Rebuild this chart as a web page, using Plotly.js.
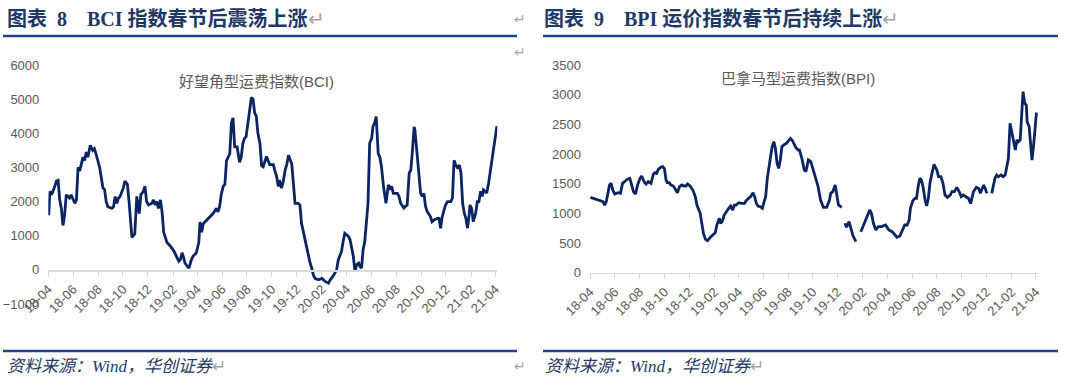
<!DOCTYPE html>
<html>
<head>
<meta charset="utf-8">
<script src="https://cdn.plot.ly/plotly-3.0.1.min.js"></script>
<style>
html,body{margin:0;padding:0;background:#fff;}
#chart{width:1070px;height:384px;}
</style>
</head>
<body>
<div id="chart"></div>
<script>
// ---------- DATA ----------
const bciTitle = "好望角型运费指数(BCI)";
const bpiTitle = "巴拿马型运费指数(BPI)";
const leftHeader = "图表\u00a0\u00a08\u00a0\u00a0\u00a0\u00a0BCI\u00a0指数春节后震荡上涨";
const rightHeader = "图表\u00a0\u00a09\u00a0\u00a0\u00a0\u00a0BPI\u00a0运价指数春节后持续上涨";
const sourceText = "资料来源：Wind，华创证券";

const bciDates = [
"2018-04-02","2018-04-05","2018-04-09","2018-04-13","2018-04-17","2018-04-21","2018-04-25","2018-04-29",
"2018-05-03","2018-05-07","2018-05-11","2018-05-15","2018-05-23","2018-05-27","2018-06-05","2018-06-09",
"2018-06-13","2018-06-17","2018-06-21","2018-06-25","2018-06-29","2018-07-03","2018-07-07","2018-07-13",
"2018-07-19","2018-07-23","2018-07-27","2018-08-05","2018-08-09","2018-08-13","2018-08-17","2018-08-21",
"2018-08-25","2018-09-04","2018-09-08","2018-09-12","2018-09-16","2018-09-20","2018-09-24","2018-10-02",
"2018-10-06","2018-10-12","2018-10-16","2018-10-20","2018-10-23","2018-10-30","2018-11-04","2018-11-10",
"2018-11-14","2018-11-20","2018-11-24","2018-11-28","2018-12-03","2018-12-11","2018-12-15","2018-12-19",
"2018-12-23","2018-12-27","2019-01-01","2019-01-05","2019-01-09","2019-01-17","2019-01-25","2019-02-03",
"2019-02-07","2019-02-15","2019-02-19","2019-02-23","2019-02-27","2019-03-02","2019-03-08","2019-03-12",
"2019-03-18","2019-03-22","2019-03-30","2019-04-05","2019-04-08","2019-04-12","2019-04-16","2019-04-24",
"2019-05-02","2019-05-10","2019-05-18","2019-05-22","2019-05-26","2019-05-30","2019-06-04","2019-06-08",
"2019-06-12","2019-06-16","2019-06-20","2019-06-24","2019-06-28","2019-07-02","2019-07-08","2019-07-14",
"2019-07-18","2019-07-22","2019-07-26","2019-07-30","2019-08-04","2019-08-08","2019-08-12","2019-08-16",
"2019-08-20","2019-08-24","2019-08-28","2019-09-02","2019-09-06","2019-09-10","2019-09-18","2019-09-26",
"2019-10-05","2019-10-08","2019-10-13","2019-10-17","2019-10-20","2019-10-25","2019-10-29","2019-11-03",
"2019-11-07","2019-11-11","2019-11-15","2019-11-19","2019-11-23","2019-11-27","2019-12-05","2019-12-09",
"2019-12-13","2019-12-17","2019-12-21","2019-12-25","2019-12-29","2020-01-03","2020-01-07","2020-01-11",
"2020-01-15","2020-01-23","2020-02-01","2020-02-09","2020-02-17","2020-02-21","2020-03-01","2020-03-08",
"2020-03-12","2020-03-16","2020-03-20","2020-03-24","2020-03-28","2020-04-02","2020-04-06","2020-04-10",
"2020-04-14","2020-04-18","2020-04-22","2020-04-26","2020-05-01","2020-05-04","2020-05-08","2020-05-12",
"2020-05-16","2020-05-20","2020-05-24","2020-05-28","2020-06-02","2020-06-05","2020-06-10","2020-06-13",
"2020-06-14","2020-06-18","2020-06-22","2020-06-26","2020-07-01","2020-07-05","2020-07-07","2020-07-13",
"2020-07-17","2020-07-21","2020-07-25","2020-08-04","2020-08-08","2020-08-12","2020-08-20","2020-08-24",
"2020-08-28","2020-09-02","2020-09-06","2020-09-10","2020-09-14","2020-09-16","2020-09-20","2020-09-26",
"2020-09-30","2020-10-04","2020-10-08","2020-10-12","2020-10-16","2020-10-24","2020-10-28","2020-11-02",
"2020-11-10","2020-11-14","2020-11-18","2020-11-22","2020-11-26","2020-11-30","2020-12-05","2020-12-13",
"2020-12-17","2020-12-21","2020-12-25","2020-12-29","2021-01-03","2021-01-07","2021-01-11","2021-01-15",
"2021-01-19","2021-01-23","2021-01-27","2021-01-29","2021-02-02","2021-02-06","2021-02-12","2021-02-16",
"2021-02-20","2021-02-24","2021-02-28","2021-03-03","2021-03-07","2021-03-11","2021-03-15","2021-03-19",
"2021-03-23","2021-03-27","2021-04-01","2021-04-05"];
const bciValues = [
1600,2300,2200,2300,2450,2600,2620,2050,
1800,1300,1600,2200,2100,2200,1950,2050,
3000,2900,3100,3300,3200,3450,3300,3650,
3500,3550,3400,3000,2700,2400,2350,2000,
1850,1800,1850,2150,1950,2100,2150,2400,
2600,2500,2000,1400,950,1050,2150,1650,
2200,2300,2450,2000,1900,1950,2050,1900,
2000,1800,2050,1700,1100,800,700,550,
450,250,300,500,350,200,100,50,
300,400,500,800,1400,1100,1350,1450,
1550,1650,1800,1700,1850,2200,2450,2500,
3200,3300,3400,4300,4450,3600,3600,3150,
3300,3700,3850,3900,4300,4600,5050,5000,
4600,4500,4000,3700,3050,3020,3320,3080,
3080,2930,2730,2440,2630,2390,2580,2930,
3100,3360,3210,3100,2530,1950,1950,1900,
1360,1120,880,680,440,200,50,-150,
-250,-290,-250,-340,-390,-300,-150,0,
290,390,540,830,1070,1020,980,880,
680,390,-50,150,200,100,50,590,
830,1360,1950,3710,3860,4190,4340,4490,
4300,3410,3300,3020,2440,2050,1950,2490,
2390,2440,2240,2240,2150,1950,1810,1860,
1900,2830,2930,3510,4190,4100,3510,2580,
2240,2150,2240,1860,1710,1560,1410,1460,
1510,1510,1220,1560,1760,1900,2000,2000,
2100,3210,3070,3000,3070,2830,1950,1660,
1510,1220,1610,1900,1800,1410,1660,2000,
2000,2300,2150,2340,2300,2250,2490,2830,
3170,3460,4000,4210];

const bpiDates = [
"2018-04-02","2018-04-09","2018-04-17","2018-04-25","2018-05-03","2018-05-07","2018-05-11","2018-05-15",
"2018-05-19","2018-05-23","2018-05-27","2018-06-01","2018-06-09","2018-06-15","2018-06-20","2018-06-25",
"2018-07-01","2018-07-08","2018-07-12","2018-07-17","2018-07-22","2018-07-27","2018-08-02","2018-08-06",
"2018-08-12","2018-08-17","2018-08-22","2018-08-29","2018-09-04","2018-09-08","2018-09-12","2018-09-16",
"2018-09-22","2018-09-27","2018-10-01","2018-10-05","2018-10-08","2018-10-13","2018-10-17","2018-10-23",
"2018-10-29","2018-11-02","2018-11-07","2018-11-13","2018-11-18","2018-11-23","2018-11-27","2018-12-03",
"2018-12-10","2018-12-16","2018-12-20","2018-12-24","2018-12-28","2019-01-01","2019-01-05","2019-01-10",
"2019-01-15","2019-01-22","2019-01-29","2019-02-03","2019-02-07","2019-02-13","2019-02-16","2019-02-20",
"2019-02-25","2019-03-02","2019-03-08","2019-03-13","2019-03-18","2019-03-22","2019-03-26","2019-04-02",
"2019-04-08","2019-04-16","2019-04-20","2019-04-26","2019-05-01","2019-05-07","2019-05-11","2019-05-15",
"2019-05-19","2019-05-25","2019-05-30","2019-06-02","2019-06-07","2019-06-11","2019-06-15","2019-06-19",
"2019-06-23","2019-06-27","2019-07-01","2019-07-05","2019-07-09","2019-07-13","2019-07-17","2019-07-21",
"2019-07-28","2019-08-01","2019-08-07","2019-08-12","2019-08-16","2019-08-20","2019-08-26","2019-08-29",
"2019-09-04","2019-09-10","2019-09-14","2019-09-20","2019-09-26","2019-10-02","2019-10-09","2019-10-14",
"2019-10-20","2019-10-27","2019-11-04","2019-11-11","2019-11-14","2019-11-19","2019-11-25","2019-11-29",
"2019-12-03","2019-12-11","2019-12-15","2019-12-19","2019-12-23","2019-12-29","2020-01-03","2020-01-08",
"2020-01-15","2020-01-20","2020-01-27","2020-02-03","2020-02-10","2020-02-14","2020-02-18","2020-02-22",
"2020-02-27","2020-03-04","2020-03-10","2020-03-18","2020-03-28","2020-04-05","2020-04-13","2020-04-20",
"2020-04-25","2020-05-02","2020-05-09","2020-05-14","2020-05-20","2020-05-25","2020-05-28","2020-06-03",
"2020-06-08","2020-06-12","2020-06-16","2020-06-20","2020-06-24","2020-06-28","2020-07-03","2020-07-07",
"2020-07-11","2020-07-15","2020-07-20","2020-07-25","2020-08-01","2020-08-05","2020-08-11","2020-08-16",
"2020-08-21","2020-08-27","2020-09-03","2020-09-07","2020-09-13","2020-09-19","2020-09-25","2020-09-30",
"2020-10-05","2020-10-12","2020-10-18","2020-10-23","2020-10-30","2020-11-06","2020-11-12","2020-11-16",
"2020-11-20","2020-11-24","2020-11-28","2020-12-02","2020-12-08","2020-12-14","2020-12-18","2020-12-22",
"2020-12-26","2020-12-30","2021-01-06","2021-01-11","2021-01-16","2021-01-20","2021-01-24","2021-01-28",
"2021-02-02","2021-02-06","2021-02-10","2021-02-14","2021-02-18","2021-02-22","2021-02-25","2021-03-01",
"2021-03-05","2021-03-09","2021-03-11","2021-03-16","2021-03-19","2021-03-23","2021-03-27","2021-03-30",
"2021-04-03","2021-04-05"];
const bpiValues = [
1270,1253,1240,1225,1197,1140,1197,1337,
1478,1506,1393,1326,1348,1337,1506,1534,
1573,1590,1478,1365,1326,1478,1590,1629,
1534,1494,1534,1506,1663,1685,1674,1742,
1775,1786,1753,1562,1517,1517,1478,1461,
1393,1348,1450,1478,1461,1461,1494,1461,
1393,1281,1140,1056,1000,831,663,562,
539,596,635,674,803,916,831,860,
972,1028,1084,1124,1056,1140,1140,1180,
1169,1169,1213,1253,1281,1348,1281,1169,
1124,1112,1084,1169,1281,1590,1815,1955,
2124,2208,2096,1843,1758,1899,2124,2152,
2180,2208,2264,2225,2152,2112,2067,2068,
1928,1731,1703,1900,1871,1731,1562,1449,
1225,1102,1102,1225,1338,1366,1478,1309,
1141,1102,null,832,765,860,748,618,
523,null,691,804,916,972,1057,1001,
832,720,776,776,804,720,691,635,
596,618,720,804,804,888,1085,1214,
1254,1254,1450,1591,1563,1450,1225,1124,
1254,1506,1675,1827,1731,1618,1618,1506,
1309,1270,1309,1365,1365,1439,1365,1281,
1309,1270,1250,1165,1365,1439,1420,1337,
1394,1478,1420,1337,null,1337,1478,1591,
1646,1618,1646,1618,1646,1787,1927,2517,
2349,2208,2068,2236,2208,2236,2686,3050,
2855,2826,2545,2461,2208,1899,2152,2377,
2696,2629];

const bciTicks = [-1000,0,1000,2000,3000,4000,5000,6000];
const bpiTicks = [0,500,1000,1500,2000,2500,3000,3500];

// ---------- LAYOUT HELPERS ----------
const W = 1070, H = 384;
const px = v => v / W;
const py = v => 1 - v / H;

const lineColor = "#0b2462";
const axisGray = "#d9d9d9";
const labelGray = "#595959";
const navy = "#1f3864";
const ruleBlue = "#1f4388";
const tickFont = {family: "Liberation Sans Narrow, Liberation Sans, Arial, sans-serif", size: 13, color: labelGray};

const xRange = ["2018-04-01", "2021-04-06"];

const traces = [
  {x: bciDates, y: bciValues, type: "scatter", mode: "lines", xaxis: "x", yaxis: "y",
   line: {color: lineColor, width: 2.8}, connectgaps: false, hoverinfo: "skip", showlegend: false},
  {x: bpiDates, y: bpiValues, type: "scatter", mode: "lines", xaxis: "x2", yaxis: "y2",
   line: {color: lineColor, width: 2.8}, connectgaps: false, hoverinfo: "skip", showlegend: false}
];

const xCommon = {
  type: "date", range: xRange, tickformat: "%y-%m", dtick: "M2", tick0: "2018-04-01",
  tickangle: -45, tickfont: tickFont, showgrid: false, zeroline: false,
  showline: true, linecolor: axisGray, linewidth: 1.5,
  ticks: "outside", ticklen: 5, tickcolor: axisGray, tickwidth: 1, fixedrange: true
};
const yCommon = {
  showgrid: false, zeroline: false, showline: false, ticks: "", tickfont: tickFont,
  ticklabelstandoff: 8, fixedrange: true
};

const headerFont = {family: "Liberation Serif, Noto Sans CJK SC, serif", size: 20, color: navy};
const footFont = {family: "Liberation Serif, Noto Sans CJK SC, serif", size: 17, color: navy};
const markFont = {family: "DejaVu Sans", size: 14, color: "#a6a6a6"};
const innerFont = {family: "Liberation Sans, Noto Sans CJK SC, sans-serif", size: 15, color: labelGray};

const layout = {
  width: W, height: H,
  margin: {l: 0, r: 0, t: 0, b: 0},
  paper_bgcolor: "#fff", plot_bgcolor: "rgba(0,0,0,0)",
  showlegend: false,
  xaxis: Object.assign({}, xCommon, {domain: [px(48.3), px(497.3)], anchor: "free", position: py(270)}),
  yaxis: Object.assign({}, yCommon, {domain: [py(304), py(65)], range: [-1000, 6000], tickvals: bciTicks, anchor: "x"}),
  xaxis2: Object.assign({}, xCommon, {domain: [px(590), px(1037.7)], anchor: "y2"}),
  yaxis2: Object.assign({}, yCommon, {domain: [py(272.7), py(65)], range: [0, 3500], tickvals: bpiTicks, anchor: "x2"}),
  shapes: [
    {type: "line", xref: "paper", yref: "paper", x0: px(3), x1: px(517), y0: py(36), y1: py(36), line: {color: ruleBlue, width: 2.5}},
    {type: "line", xref: "paper", yref: "paper", x0: px(543), x1: px(1058), y0: py(36), y1: py(36), line: {color: ruleBlue, width: 2.5}},
    {type: "line", xref: "paper", yref: "paper", x0: px(3), x1: px(517), y0: py(351), y1: py(351), line: {color: ruleBlue, width: 2.5}},
    {type: "line", xref: "paper", yref: "paper", x0: px(543), x1: px(1058), y0: py(351), y1: py(351), line: {color: ruleBlue, width: 2.5}}
  ],
  annotations: [
    {xref: "paper", yref: "paper", x: px(5), y: py(19), xanchor: "left", yanchor: "middle", showarrow: false,
     text: "<b>" + leftHeader + "</b><span style='color:#a6a6a6'>↵</span>", font: headerFont},
    {xref: "paper", yref: "paper", x: px(542), y: py(19), xanchor: "left", yanchor: "middle", showarrow: false,
     text: "<b>" + rightHeader + "</b><span style='color:#a6a6a6'>↵</span>", font: headerFont},
    {xref: "paper", yref: "paper", x: px(5), y: py(366), xanchor: "left", yanchor: "middle", showarrow: false,
     text: "<i>" + sourceText + "</i><span style='color:#a6a6a6'>↵</span>", font: footFont},
    {xref: "paper", yref: "paper", x: px(543), y: py(366), xanchor: "left", yanchor: "middle", showarrow: false,
     text: "<i>" + sourceText + "</i><span style='color:#a6a6a6'>↵</span>", font: footFont},
    {xref: "paper", yref: "paper", x: px(520), y: py(19), xanchor: "center", yanchor: "middle", showarrow: false,
     text: "↵", font: markFont},
    {xref: "paper", yref: "paper", x: px(520), y: py(52), xanchor: "center", yanchor: "middle", showarrow: false,
     text: "↵", font: markFont},
    {xref: "paper", yref: "paper", x: px(520), y: py(366), xanchor: "center", yanchor: "middle", showarrow: false,
     text: "↵", font: markFont},
    {xref: "paper", yref: "paper", x: px(256), y: py(81), xanchor: "center", yanchor: "middle", showarrow: false,
     text: bciTitle, font: innerFont},
    {xref: "paper", yref: "paper", x: px(798), y: py(78), xanchor: "center", yanchor: "middle", showarrow: false,
     text: bpiTitle, font: innerFont}
  ]
};

Plotly.newPlot("chart", traces, layout, {displayModeBar: false, staticPlot: true});
</script>
</body>
</html>
